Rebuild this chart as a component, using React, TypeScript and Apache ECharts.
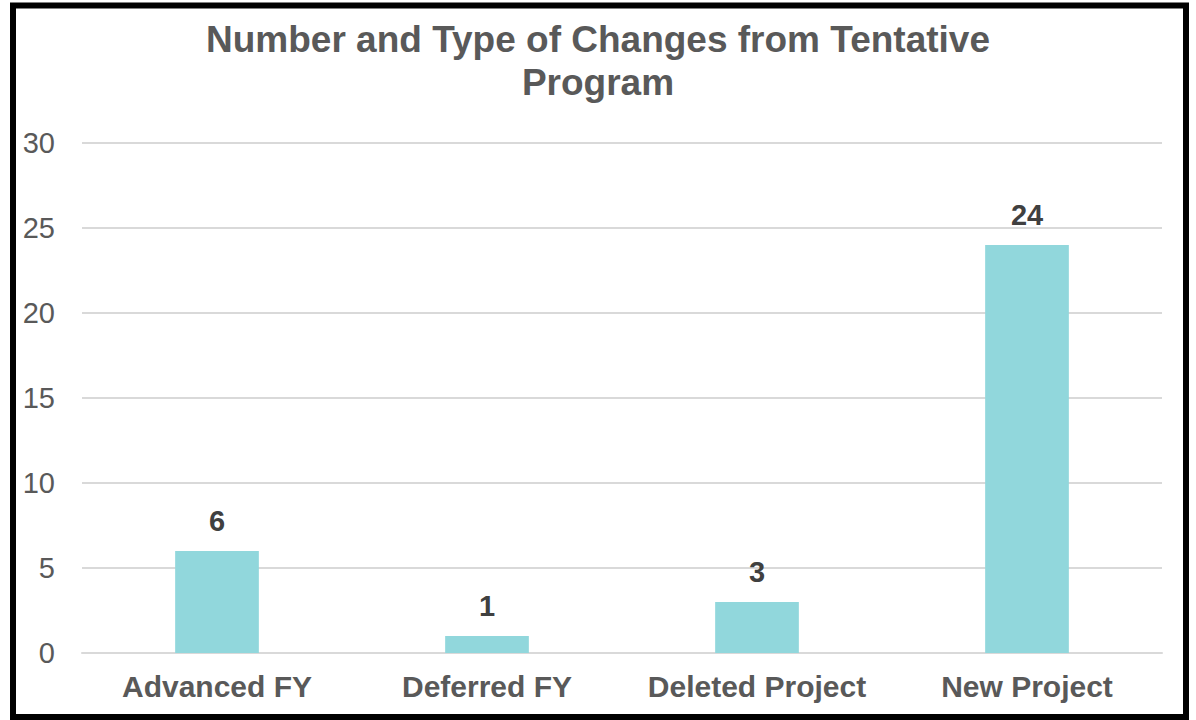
import React, { useEffect, useRef } from "react";
import * as echarts from "echarts";

const categories = ["Advanced FY", "Deferred FY", "Deleted Project", "New Project"];
const values = [6, 1, 3, 24];
const titleText = "Number and Type of Changes from Tentative\nProgram";

export default function App() {
  const ref = useRef<HTMLDivElement>(null);
  useEffect(() => {
    if (!ref.current) return;
    const chart = echarts.init(ref.current, null, { renderer: "svg" });
    const font = "'Liberation Sans', Arial, sans-serif";
    chart.setOption({
      animation: false,
      backgroundColor: "#ffffff",
      textStyle: { fontFamily: font },
      title: {
        text: titleText,
        left: "center",
        top: 13,
        textStyle: {
          fontFamily: font,
          fontSize: 37,
          fontWeight: "bold",
          color: "#595959",
          lineHeight: 43,
        },
      },
      grid: { left: 82, right: 34, top: 143, bottom: 67, containLabel: false },
      xAxis: {
        type: "category",
        data: categories,
        axisLine: { show: true, lineStyle: { color: "#d9d9d9", width: 2 } },
        axisTick: { show: false },
        axisLabel: {
          interval: 0,
          color: "#595959",
          fontSize: 30,
          fontWeight: "bold",
          margin: 18,
          fontFamily: font,
        },
      },
      yAxis: {
        type: "value",
        min: 0,
        max: 30,
        interval: 5,
        axisLine: { show: false },
        axisTick: { show: false },
        axisLabel: { color: "#595959", fontSize: 29, margin: 27, fontFamily: font },
        splitLine: { lineStyle: { color: "#d9d9d9", width: 2 } },
      },
      series: [
        {
          type: "bar",
          data: values,
          barWidth: "31%",
          itemStyle: { color: "#91d7dc" },
          label: {
            show: true,
            position: "top",
            distance: 16,
            color: "#404040",
            fontSize: 29,
            fontWeight: "bold",
            fontFamily: font,
          },
        },
      ],
      graphic: [
        {
          type: "rect",
          shape: { x: 13, y: 5.5, width: 1173, height: 711.5 },
          style: { fill: "none", stroke: "#000000", lineWidth: 6 },
          z: 100,
        },
      ],
    });
    return () => chart.dispose();
  }, []);
  return (
    <div
      ref={ref}
      style={{ position: "fixed", left: 0, top: 0, width: 1196, height: 720 }}
    />
  );
}
